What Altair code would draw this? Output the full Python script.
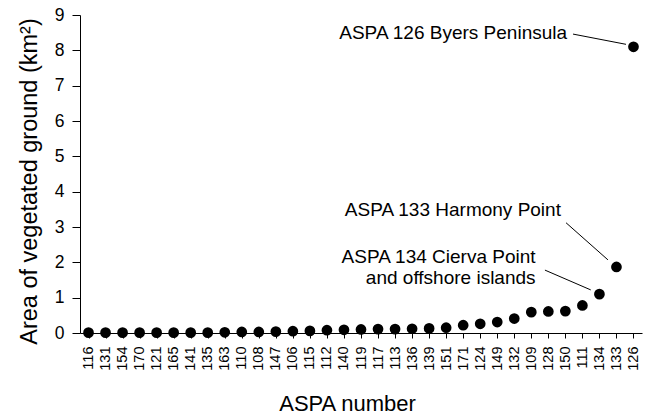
import altair as alt
import pandas as pd

aspa = ["116", "131", "154", "170", "121", "165", "141", "135", "163", "110",
        "108", "147", "106", "115", "112", "140", "119", "117", "113", "136",
        "139", "151", "171", "124", "149", "132", "109", "128", "150", "111",
        "134", "133", "126"]
area = [0.01, 0.01, 0.01, 0.01, 0.01, 0.01, 0.01, 0.01, 0.02, 0.03,
        0.03, 0.04, 0.05, 0.06, 0.08, 0.09, 0.10, 0.11, 0.11, 0.12,
        0.13, 0.15, 0.22, 0.26, 0.31, 0.41, 0.59, 0.61, 0.62, 0.78,
        1.10, 1.87, 8.10]
y_ticks = [0, 1, 2, 3, 4, 5, 6, 7, 8, 9]

# annotation texts (position in data units: index along x, value on y)
ann_text = ["ASPA 126 Byers Peninsula", "ASPA 133 Harmony Point",
            "ASPA 134 Cierva Point", "and offshore islands"]
ann_x = [28.1, 27.74, 26.25, 26.25]
ann_y = [8.50, 3.48, 2.16, 1.56]

# leader lines
line_x1 = [28.45, 28.04, 26.8]
line_y1 = [8.46, 3.12, 1.78]
line_x2 = [31.56, 30.5, 29.49]
line_y2 = [8.17, 2.07, 1.22]

df = pd.DataFrame({"idx": list(range(len(aspa))), "aspa": aspa, "area": area})
labels_js = "[" + ",".join("'" + a + "'" for a in aspa) + "]"

xscale = alt.Scale(domain=[-0.5, len(aspa) - 0.5], nice=False, zero=False)
yscale = alt.Scale(domain=[0, 9], nice=False)

FONT = "Liberation Sans"

xaxis = alt.Axis(title="ASPA number", values=list(range(len(aspa))),
                 labelExpr=labels_js + "[datum.value]",
                 labelAngle=-90, labelAlign="right", labelBaseline="middle",
                 labelFontSize=14.5, labelPadding=8, tickSize=5,
                 labelOverlap=False, labelFlush=False, labelBound=False,
                 titleFontSize=22, titleFontWeight="normal",
                 titleX=267, titleY=70, titleBaseline="middle",
                 grid=False, domainColor="black", tickColor="black",
                 labelColor="black", titleColor="black")
yaxis = alt.Axis(title="Area of vegetated ground (km²)",
                 values=y_ticks, format="d",
                 labelFontSize=17.5, labelPadding=8, tickSize=8,
                 labelOverlap=False, labelFlush=False, labelBound=False,
                 titleFontSize=23.5, titleFontWeight="normal",
                 titleX=-51, titleY=166, titleBaseline="middle",
                 grid=False, domainColor="black", tickColor="black",
                 labelColor="black", titleColor="black")

points = alt.Chart(df).mark_circle(size=115, color="black", opacity=1).encode(
    x=alt.X("idx:Q", scale=xscale, axis=xaxis),
    y=alt.Y("area:Q", scale=yscale, axis=yaxis),
)

ann_df = pd.DataFrame({"t": ann_text, "x": ann_x, "y": ann_y})
texts = alt.Chart(ann_df).mark_text(align="right", baseline="middle",
                                    fontSize=19, font=FONT, color="black").encode(
    x=alt.X("x:Q", scale=xscale, axis=xaxis),
    y=alt.Y("y:Q", scale=yscale, axis=yaxis), text="t:N")

line_df = pd.DataFrame({"x1": line_x1, "y1": line_y1, "x2": line_x2, "y2": line_y2})
lines = alt.Chart(line_df).mark_rule(color="black", strokeWidth=1).encode(
    x=alt.X("x1:Q", scale=xscale, axis=xaxis),
    y=alt.Y("y1:Q", scale=yscale, axis=yaxis),
    x2="x2:Q", y2="y2:Q")

chart = alt.layer(points, lines, texts).properties(
    width=562, height=318,
    autosize=alt.AutoSizeParams(type="none"),
    padding={"left": 72, "top": 7, "right": 2, "bottom": 81},
    background="white",
).configure_view(stroke=None).configure_axis(
    labelFont=FONT, titleFont=FONT, domainWidth=1, tickWidth=1
)

chart.save("out.html", embed_options={"renderer": "svg", "actions": False})
